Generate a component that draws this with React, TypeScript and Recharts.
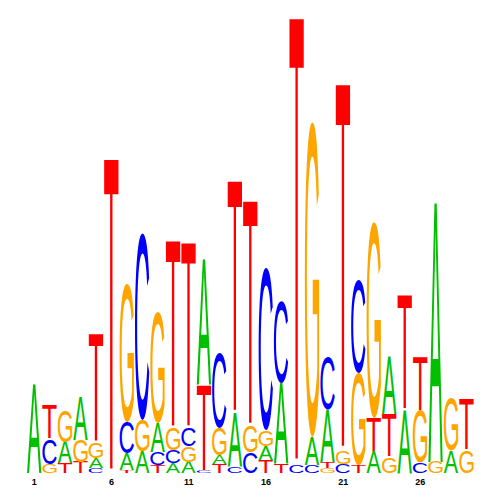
import React from 'react';
import { BarChart, Bar, XAxis, YAxis } from 'recharts';

// Sequence logo: information content (bits) of each base at each position
const POSITIONS = [1, 2, 3, 4, 5, 6, 7, 8, 9, 10, 11, 12, 13, 14, 15, 16, 17, 18, 19, 20, 21, 22, 23, 24, 25, 26, 27, 28, 29];
const A_BITS = [0.380, 0, 0.091, 0.186, 0.043, 0, 0.073, 0.095, 0.125, 0.043, 0.048, 0.540, 0.040, 0.233, 0, 0.060, 0.350, 0, 0.121, 0.226, 0, 0, 0.091, 0.246, 0.272, 0, 1.119, 0.095, 0];
const C_BITS = [0, 0.108, 0, 0, 0.022, 0, 0.134, 0.808, 0.056, 0.056, 0.078, 0.009, 0.324, 0.026, 0.091, 0.700, 0.354, 0.035, 0.035, 0.228, 0.039, 0.402, 0, 0, 0, 0.043, 0, 0, 0];
const G_BITS = [0, 0.039, 0.138, 0.095, 0.069, 0, 0.600, 0.134, 0.479, 0.095, 0.069, 0, 0.117, 0, 0.112, 0.069, 0, 0, 1.361, 0.022, 0.056, 0.397, 0.847, 0.069, 0, 0.225, 0.048, 0.225, 0.099];
const T_BITS = [0, 0.143, 0.043, 0.048, 0.467, 1.356, 0.013, 0, 0.035, 0.808, 0.799, 0.371, 0.038, 1.002, 0.972, 0.056, 0.039, 1.931, 0, 0.026, 1.585, 0.035, 0.147, 0.186, 0.492, 0.229, 0, 0, 0.220];
const TICK_LABELS = [1, 6, 11, 16, 21, 26];

const BASES = ['A', 'C', 'G', 'T'];
const BASE_BITS: Record<string, number[]> = { A: A_BITS, C: C_BITS, G: G_BITS, T: T_BITS };
const BASE_COLORS: Record<string, string> = { A: '#00C000', C: '#0000FF', G: '#FFA500', T: '#FF0000' };
const LETTER_FONT = "'Liberation Sans', Arial, sans-serif";

// fallback ink boxes (em units) of Liberation Sans glyphs
const GLYPH: Record<string, { x0: number; x1: number; y0: number; y1: number }> = {
  A: { x0: 0, x1: 0.667, y0: 0, y1: 0.688 },
  C: { x0: 0.049, x1: 0.677, y0: -0.012, y1: 0.700 },
  G: { x0: 0.053, x1: 0.723, y0: -0.012, y1: 0.700 },
  T: { x0: 0.023, x1: 0.589, y0: 0, y1: 0.688 },
};

// measure the real ink boxes when possible
try {
  const cv = document.createElement('canvas');
  const ctx = cv.getContext('2d');
  if (ctx) {
    ctx.font = `100px ${LETTER_FONT}`;
    BASES.forEach((b) => {
      const m = ctx.measureText(b);
      if (m && typeof m.actualBoundingBoxAscent === 'number' && m.actualBoundingBoxAscent > 0) {
        GLYPH[b] = {
          x0: -m.actualBoundingBoxLeft / 100,
          x1: m.actualBoundingBoxRight / 100,
          y0: -m.actualBoundingBoxDescent / 100,
          y1: m.actualBoundingBoxAscent / 100,
        };
      }
    });
  }
} catch (e) {
  // keep fallback
}

const LAYERS = [0, 1, 2, 3];

const rows = POSITIONS.map((pos, i) => {
  const items = BASES.map((b) => ({ b, v: BASE_BITS[b][i] }))
    .filter((d) => d.v > 0)
    .sort((p, q) => p.v - q.v);
  const row: Record<string, any> = { pos };
  LAYERS.forEach((k) => {
    row['v' + k] = items[k] ? items[k].v : 0;
    row['b' + k] = items[k] ? items[k].b : null;
  });
  return row;
});

function LetterShape(props: any) {
  const { x, y, width, height, letter } = props;
  if (!letter || !(height > 0) || !(width > 0)) return <g />;
  const m = GLYPH[letter];
  const FS = 100;
  const gw = (m.x1 - m.x0) * FS;
  const gh = (m.y1 - m.y0) * FS;
  const pad = 0.3;
  const w = width - 2 * pad;
  const sx = w / gw;
  const sy = height / gh;
  const transform = `translate(${x + pad},${y + height}) scale(${sx},${sy}) translate(${-m.x0 * FS},${m.y0 * FS})`;
  return (
    <text transform={transform} x={0} y={0} fontSize={FS} fontFamily={LETTER_FONT} fill={BASE_COLORS[letter]}>
      {letter}
    </text>
  );
}

function Tick(props: any) {
  const { x, y, payload } = props;
  if (!TICK_LABELS.includes(Number(payload.value))) return <g />;
  return (
    <text x={x} y={y + 12} textAnchor="middle" fontSize={9} fontWeight="bold" fontFamily={LETTER_FONT} fill="#000">
      {payload.value}
    </text>
  );
}

export default function App() {
  return (
    <div style={{ width: 492, height: 492, background: '#fff' }}>
      <BarChart
        width={492}
        height={492}
        data={rows}
        margin={{ top: 2, right: 25.6, bottom: 7, left: 18.6 }}
        barCategoryGap={0}
        barGap={0}
      >
        <XAxis
          dataKey="pos"
          type="category"
          interval={0}
          height={20}
          axisLine={false}
          tickLine={false}
          tickSize={0}
          tickMargin={0}
          tick={<Tick />}
        />
        <YAxis hide domain={[0, 2]} />
        {LAYERS.map((k) => (
          <Bar
            key={k}
            dataKey={'v' + k}
            stackId="logo"
            isAnimationActive={false}
            shape={(p: any) => <LetterShape {...p} letter={p.payload ? p.payload['b' + k] : null} />}
          />
        ))}
      </BarChart>
    </div>
  );
}
